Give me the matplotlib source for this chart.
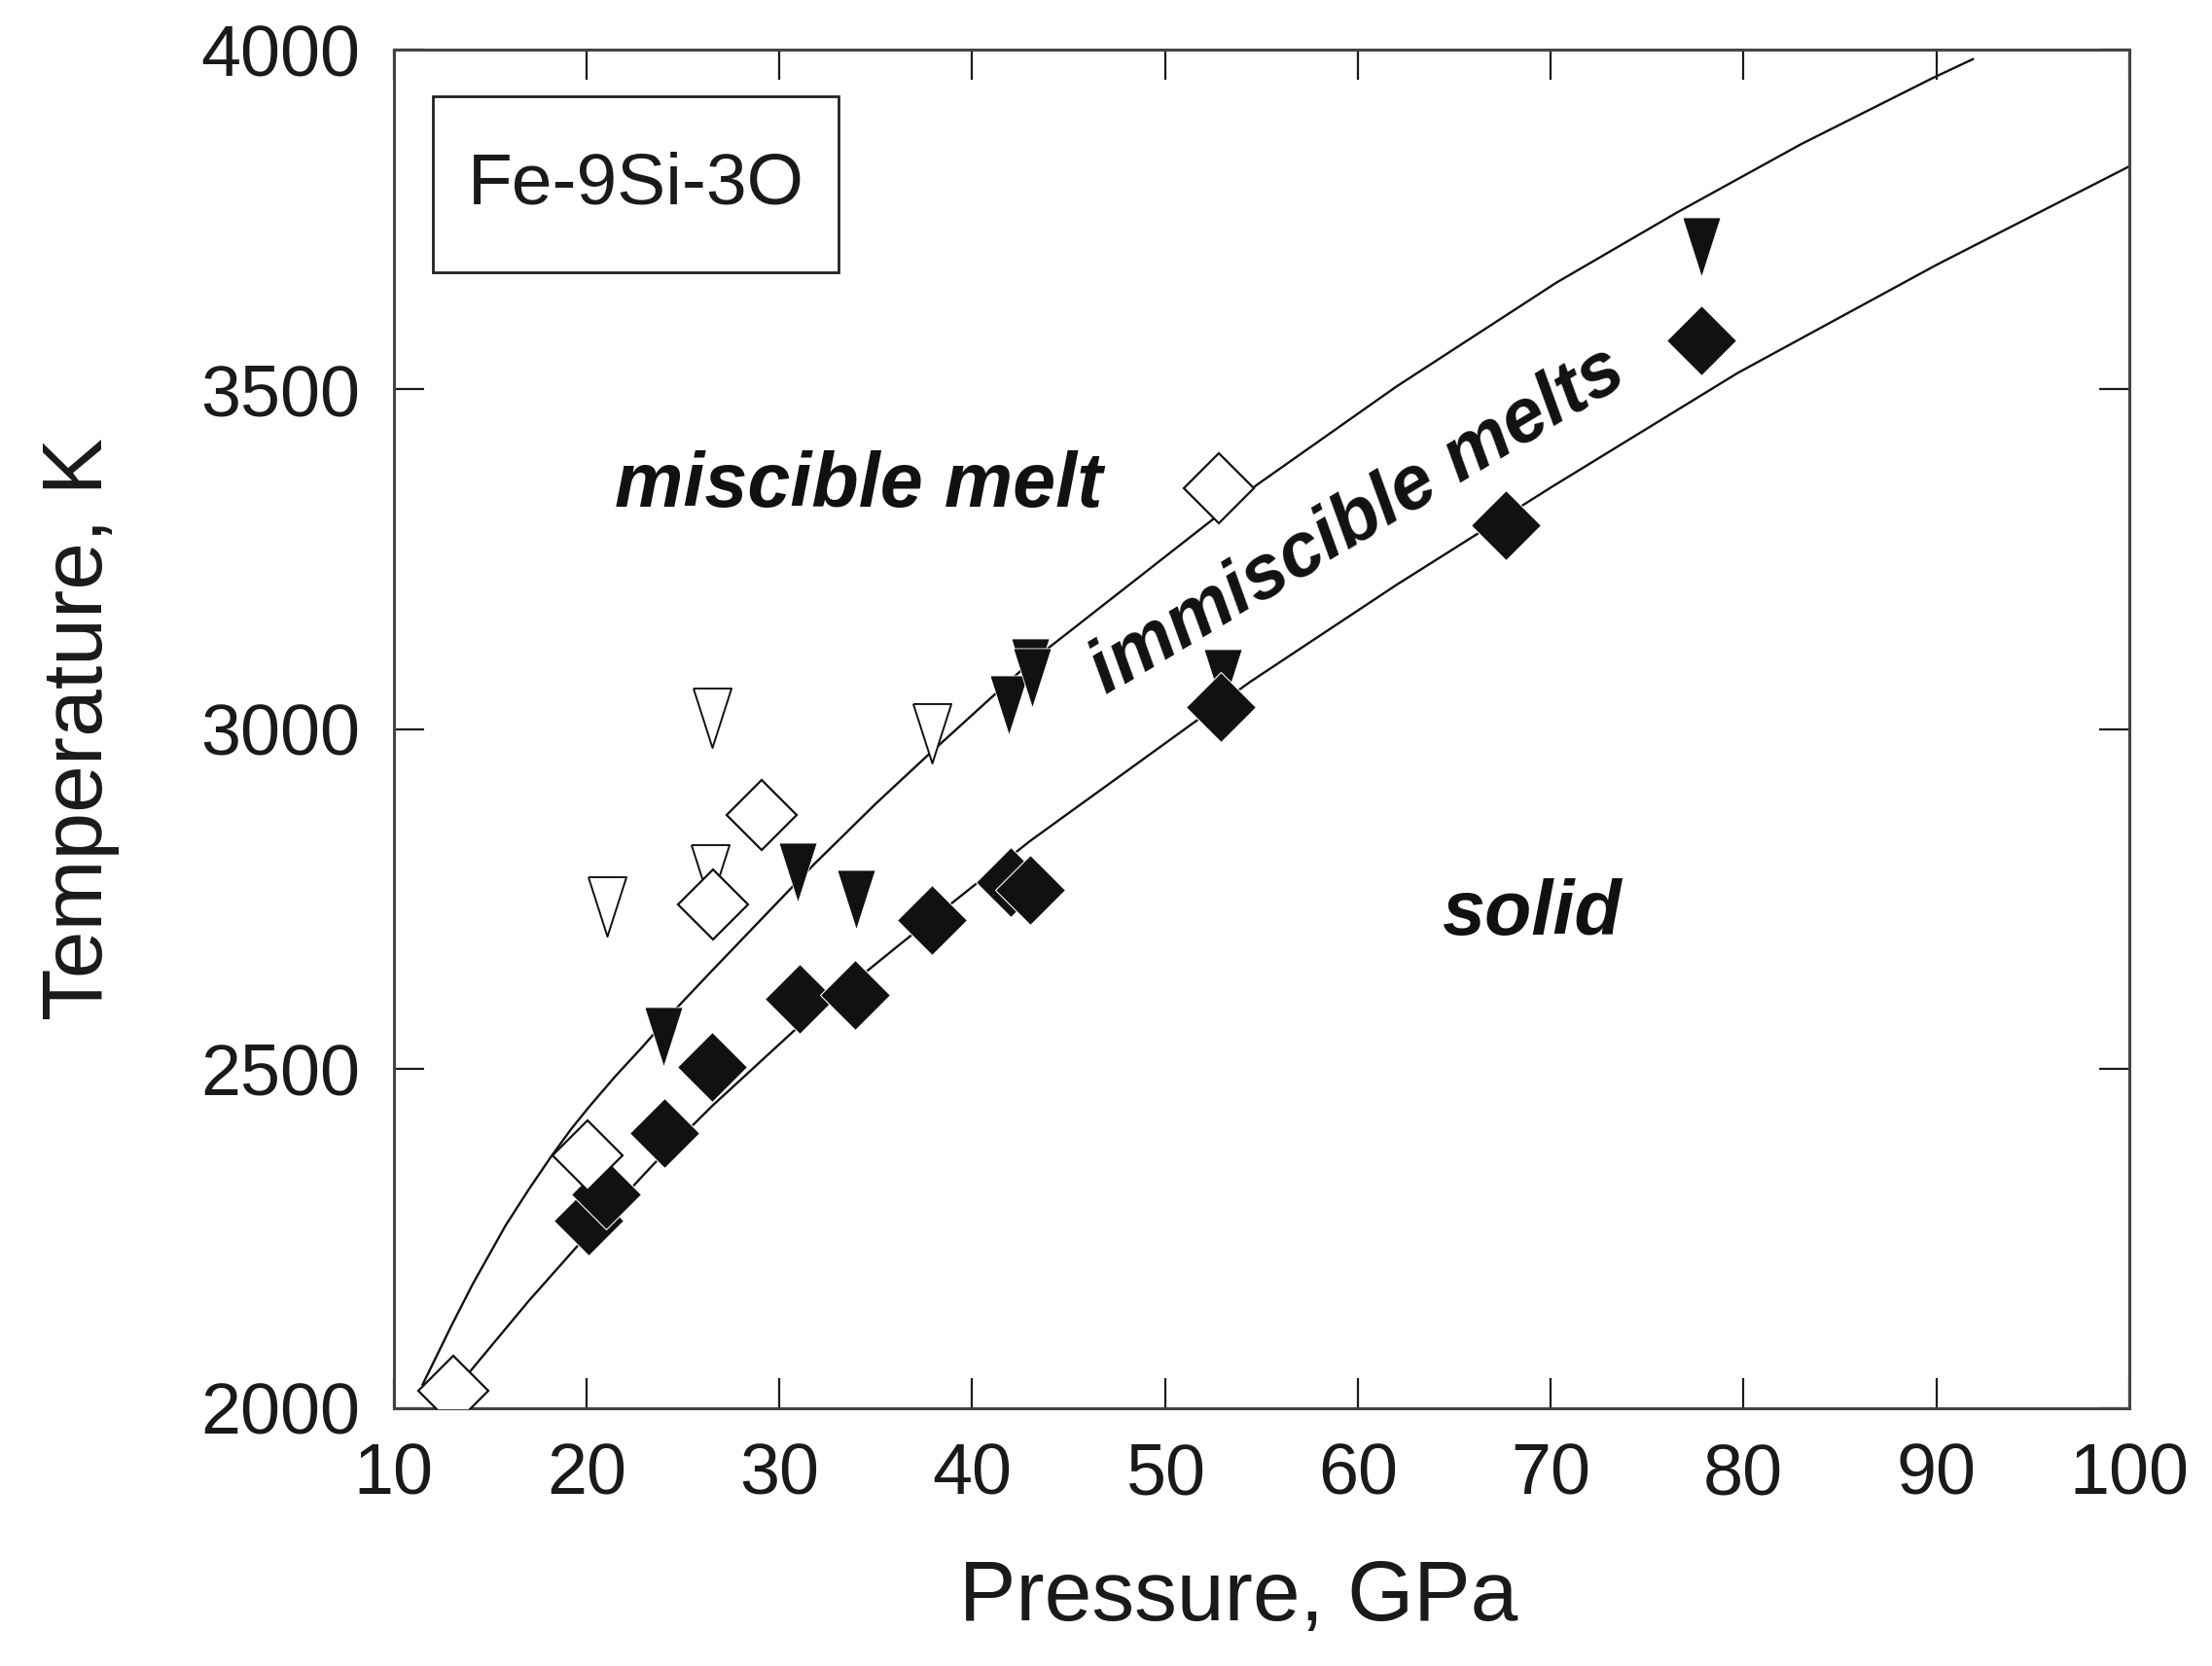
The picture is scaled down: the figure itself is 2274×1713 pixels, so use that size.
import matplotlib
matplotlib.use("Agg")
import matplotlib.pyplot as plt
from matplotlib.patches import Rectangle

plt.rcParams['font.family'] = ['Liberation Sans', 'DejaVu Sans']

# boundary curves (pressure GPa, temperature K)
upper_p = [11.5, 11.76, 13.0, 14.1, 15.8, 17.0, 18.15, 19.2, 20.17, 21.5, 22.9, 24.6,
           26.4, 31.77, 35.0, 37.65, 43.0, 54.8, 62.0, 70.3, 76.6, 83.0, 89.8, 91.9]
upper_t = [2035, 2050, 2122, 2183, 2269, 2322, 2370, 2411, 2445, 2489, 2532, 2587,
           2641, 2800, 2890, 2960, 3098, 3360, 3504, 3657, 3761, 3861, 3958, 3986]
lower_p = [13.6, 14.1, 17.0, 19.5, 23.5, 26.55, 31.0, 36.3, 43.0, 54.4, 62.0,
           70.1, 79.7, 90.0, 100.0]
lower_t = [2042, 2059, 2158, 2238, 2360, 2446, 2562, 2684, 2835, 3069, 3212,
           3357, 3524, 3683, 3828]

# open diamonds
od_p = [13.1, 20.05, 26.55, 29.1, 52.8]
od_t = [2026, 2372, 2742, 2873, 3355]
# filled diamonds
fd_p = [20.1, 21.0, 24.05, 26.5, 31.05, 33.9, 37.9, 42.0, 43.0, 52.9, 67.7, 77.8]
fd_t = [2276, 2315, 2405, 2503, 2603, 2608, 2718, 2775, 2763, 3032, 3300, 3572]
# open triangles
ot_p = [21.05, 26.5, 26.4, 37.9]
ot_t = [2739, 3017, 2786, 2993]
# filled triangles
ft_p = [24.0, 30.97, 34.0, 41.9, 43.0, 43.1, 53.0, 77.8]
ft_t = [2547, 2789, 2749, 3035, 3090, 3075, 3074, 3710]

xticks = [10, 20, 30, 40, 50, 60, 70, 80, 90, 100]
yticks = [2000, 2500, 3000, 3500, 4000]

tri = [(-0.32, 0.5), (0.32, 0.5), (0.0, -0.5), (-0.32, 0.5)]

fig = plt.figure(figsize=(22.74, 17.13), dpi=100)
ax = fig.add_axes([0.178, 0.1547, 0.7845, 0.8155])

ax.plot(upper_p, upper_t, color='#111', lw=1.7, zorder=1)
ax.plot(lower_p, lower_t, color='#111', lw=1.7, zorder=1)

ax.plot(ot_p, ot_t, ls='none', marker=tri, ms=44, mfc='white', mec='#111', mew=1.4, zorder=2)
ax.plot(ft_p, ft_t, ls='none', marker=tri, ms=44, mfc='#111', mec='white', mew=0.6, zorder=3)
ax.plot(fd_p, fd_t, ls='none', marker='D', ms=37, mfc='#111', mec='white', mew=0.8, zorder=4)
ax.plot(od_p, od_t, ls='none', marker='D', ms=37, mfc='white', mec='#111', mew=1.6, zorder=5)

ax.set_xlim(10, 100)
ax.set_ylim(2000, 4000)
ax.set_xticks(xticks)
ax.set_yticks(yticks)
ax.tick_params(direction='in', length=22, width=1.6, top=True, right=True,
               labelsize=53, pad=25, colors='#1a1a1a')
for s in ax.spines.values():
    s.set_linewidth(2.2)
    s.set_color('#444')

ax.text(0.487, -0.156, 'Pressure, GPa', transform=ax.transAxes, fontsize=63,
        ha='center', va='baseline', color='#1a1a1a')
ax.text(-0.158, 0.5, 'Temperature, K', transform=ax.transAxes, fontsize=63,
        ha='right', va='center', rotation=90, color='#1a1a1a')

ax.add_patch(Rectangle((0.0224, 0.836), 0.234, 0.1296, transform=ax.transAxes,
                       fill=False, lw=2.0, ec='#222', zorder=6))
ax.text(0.1394, 0.9006, 'Fe-9Si-3O', transform=ax.transAxes, fontsize=54,
        ha='center', va='center', color='#1a1a1a')

ax.text(34.1, 3357, 'miscible melt', fontsize=57, fontweight='bold', style='italic',
        ha='center', va='center', color='#111')
ax.text(69.0, 2727, 'solid', fontsize=57, fontweight='bold', style='italic',
        ha='center', va='center', color='#111')
ax.text(60.0, 3305, 'immiscible melts', fontsize=56, fontweight='bold', style='italic',
        ha='center', va='center', rotation=31, rotation_mode='anchor', color='#111')

fig.savefig('out.png', dpi=100)
